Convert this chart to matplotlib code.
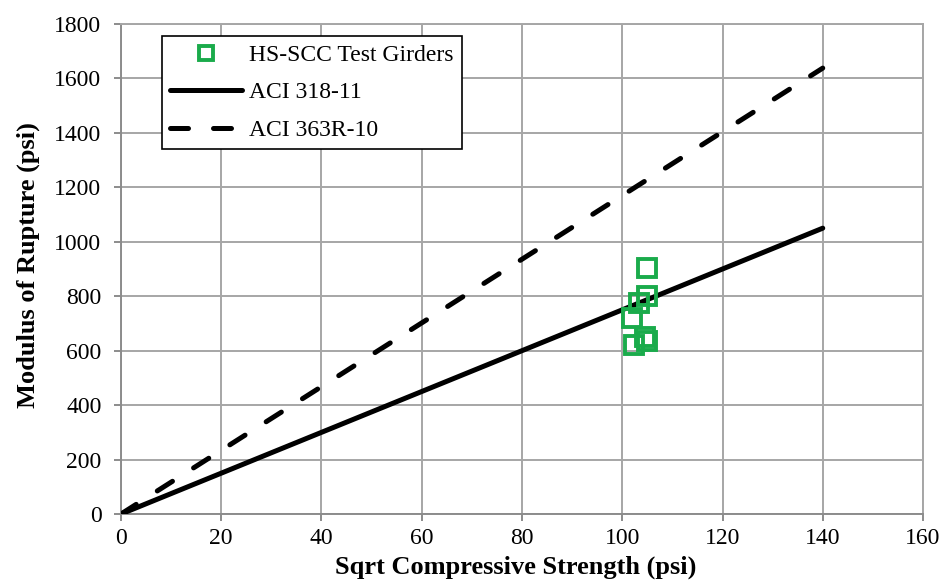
import numpy as np
import matplotlib.pyplot as plt

plt.rcParams['font.family'] = ['Liberation Serif', 'DejaVu Serif']

# test girders: sqrt(f'c) vs modulus of rupture
sqrt_fc = [102.3, 101.9, 103.4, 105.0, 104.9, 104.6, 105.0]
mor = [620, 720, 775, 800, 905, 650, 635]

# code equations (fr = coef * sqrt(f'c))
x_line = np.array([0, 140])
aci318_coef = 7.5
aci363_coef = 11.7

fig = plt.figure(figsize=(9.43, 5.81), dpi=100)
ax = fig.add_axes([0.1283, 0.1153, 0.8505, 0.8434])

ax.plot(sqrt_fc, mor, 's', ms=13, mfc='none', mec='#1aab4b', mew=2.8,
        label='HS-SCC Test Girders', zorder=4)
ax.plot(x_line, aci318_coef * x_line, '-', color='black', lw=3.6,
        solid_capstyle='round', label='ACI 318-11', zorder=3)
ax.plot(x_line, aci363_coef * x_line, '--', color='black', lw=3.6, dashes=(3.6, 5.0),
        dash_capstyle='round', label='ACI 363R-10', zorder=3)

ax.set_xlim(0, 160)
ax.set_ylim(0, 1800)
ax.set_xticks(np.arange(0, 161, 20))
ax.set_yticks(np.arange(0, 1801, 200))
ax.grid(True, color='#a6a6a6', lw=1.4)
ax.set_axisbelow(True)
for s in ax.spines.values():
    s.set_color('#a6a6a6')
    s.set_linewidth(1.4)
ax.spines['left'].set_color('#8c8c8c')
ax.spines['bottom'].set_color('#8c8c8c')
ax.tick_params(labelsize=17, length=5, width=1.4, color='#8c8c8c')
ax.tick_params(axis='x', pad=5)
ax.tick_params(axis='y', pad=9)

ax.set_xlabel('Sqrt Compressive Strength (psi)', fontsize=19, fontweight='bold')
ax.set_ylabel('Modulus of Rupture (psi)', fontsize=19, fontweight='bold')
ax.xaxis.set_label_coords(0.492, -0.085)
ax.yaxis.set_label_coords(-0.101, 0.508)

leg = ax.legend(loc='upper left', bbox_to_anchor=(0.051, 0.9755), fontsize=17,
                frameon=True, fancybox=False, edgecolor='black', framealpha=1,
                handlelength=3.05, handletextpad=0.3, borderpad=0.35,
                labelspacing=0.68, borderaxespad=0)
leg.get_frame().set_linewidth(1.2)
leg.legend_handles[0].set_markersize(10)

fig.savefig('out.png', dpi=100)
